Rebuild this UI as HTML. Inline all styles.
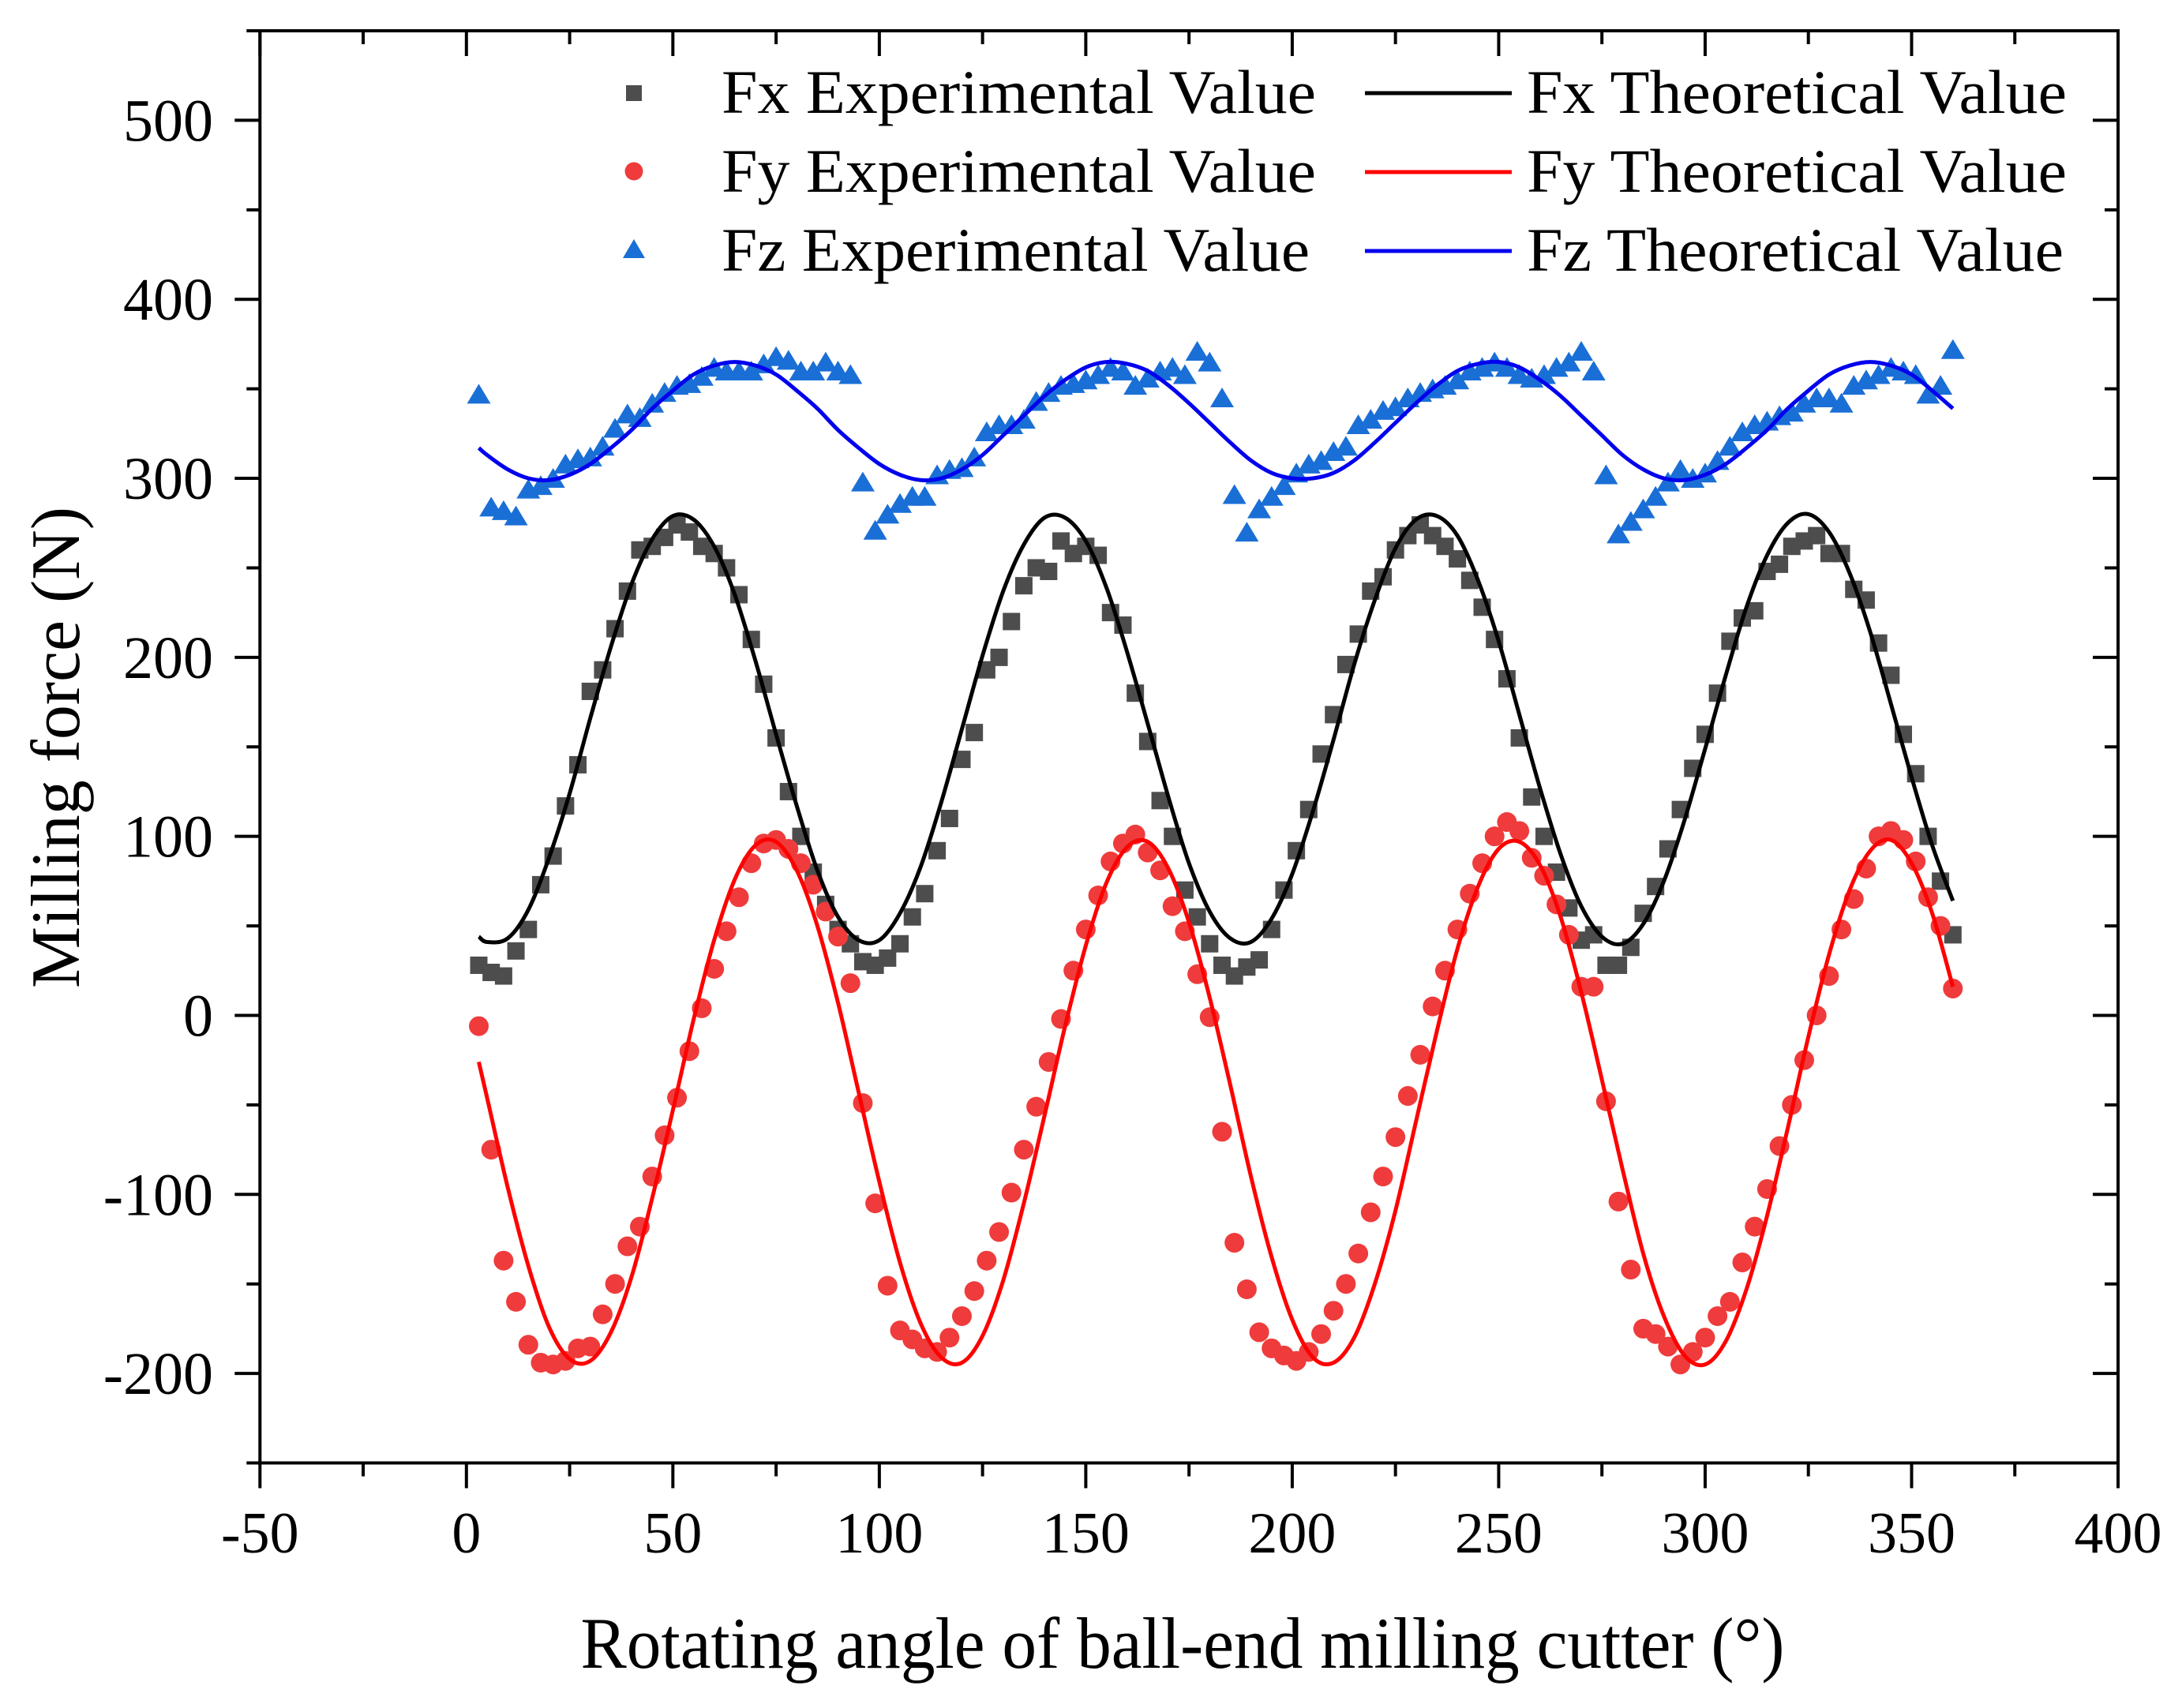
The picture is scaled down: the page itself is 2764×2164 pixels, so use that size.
<!DOCTYPE html>
<html><head><meta charset="utf-8"><style>
html,body{margin:0;padding:0;background:#fff;}
svg{display:block;}
text{font-family:"Liberation Serif",serif;fill:#000;}
</style></head><body>
<svg id="chart" xmlns="http://www.w3.org/2000/svg" width="2764" height="2164" viewBox="0 0 2764 2164">
<rect x="0" y="0" width="2764" height="2164" fill="#fff"/>
<g id="plot"></g>
<g id="axes"></g>
<text x="1498" y="2113" font-size="92" text-anchor="middle" textLength="1525" lengthAdjust="spacingAndGlyphs">Rotating angle of ball-end milling cutter (°)</text>
<text transform="translate(100,947) rotate(-90)" x="0" y="0" font-size="88" text-anchor="middle" textLength="610" lengthAdjust="spacingAndGlyphs">Milling force (N)</text>
<g>
  <rect x="793" y="108" width="20" height="20" fill="#4d4d4d"/>
  <text x="914" y="143" font-size="78" textLength="753" lengthAdjust="spacingAndGlyphs">Fx Experimental Value</text>
  <line x1="1729" y1="118" x2="1915" y2="118" stroke="#000" stroke-width="5"/>
  <text x="1934" y="143" font-size="78" textLength="684" lengthAdjust="spacingAndGlyphs">Fx Theoretical Value</text>
  <circle cx="803" cy="217" r="11.5" fill="#ef3b3b"/>
  <text x="914" y="243" font-size="78" textLength="753" lengthAdjust="spacingAndGlyphs">Fy Experimental Value</text>
  <line x1="1729" y1="218" x2="1915" y2="218" stroke="#ff0000" stroke-width="5"/>
  <text x="1934" y="243" font-size="78" textLength="684" lengthAdjust="spacingAndGlyphs">Fy Theoretical Value</text>
  <polygon points="803,303 817,327 789,327" fill="#1a6fd6"/>
  <text x="914" y="343" font-size="78" textLength="745" lengthAdjust="spacingAndGlyphs">Fz Experimental Value</text>
  <line x1="1729" y1="318" x2="1915" y2="318" stroke="#0000ee" stroke-width="5"/>
  <text x="1934" y="343" font-size="78" textLength="680" lengthAdjust="spacingAndGlyphs">Fz Theoretical Value</text>
</g>
</svg>
<script>
const xTicks = [-50, 0, 50, 100, 150, 200, 250, 300, 350, 400];
const yTicks = [-200, -100, 0, 100, 200, 300, 400, 500];
const theoAngles = [3,5,10,15,20,25,30,35,40,45,50,55,60,65,70,75,80,85,90,95,100,105,110,115,120,125,130,135,140,145,150,155,160,165,170,175,180,185,190,195,200,205,210,215,220,225,230,235,240,245,250,255,260,265,270,275,280,285,290,295,300,305,310,315,320,325,330,335,340,345,350,355,360];
const fxTheo = [44,41,43,59,88,124,166,206,241,266,279,277,262,235,198,157,117,81,55,42,42,57,83,119,160,201,237,263,278,278,265,239,203,163,122,85,58,43,41,54,79,114,154,196,232,261,277,279,268,243,209,168,127,90,61,44,40,51,75,109,149,190,228,257,275,280,270,247,214,174,133,95,64];
const fyTheo = [-26,-46,-96,-140,-174,-192,-193,-177,-146,-102,-53,-2.5,42,76,95,97,81,50,7,-43,-93,-138,-172,-191,-194,-179,-148,-105,-56,-6,39,74,94,97,82,52,10,-39,-90,-135,-170,-191,-194,-180,-150,-109,-59,-9,37,72,93,97,84,55,13,-36,-86,-133,-168,-190,-195,-182,-153,-112,-63,-12,34,70,92,98,85,57,16];
const fzTheo = [317,313,305,300,299,302,308,317,327,339,349,358,363,365,363,358,349,339,327,317,308,302,299,300,305,313,324,335,346,355,362,365,364,360,352,342,331,320,310,303,300,300,303,310,320,331,342,352,360,364,365,362,355,346,335,324,313,305,300,299,302,308,317,327,339,349,358,363,365,363,358,349,339];
const expAngles = [3,6,9,12,15,18,21,24,27,30,33,36,39,42,45,48,51,54,57,60,63,66,69,72,75,78,81,84,87,90,93,96,99,102,105,108,111,114,117,120,123,126,129,132,135,138,141,144,147,150,153,156,159,162,165,168,171,174,177,180,183,186,189,192,195,198,201,204,207,210,213,216,219,222,225,228,231,234,237,240,243,246,249,252,255,258,261,264,267,270,273,276,279,282,285,288,291,294,297,300,303,306,309,312,315,318,321,324,327,330,333,336,339,342,345,348,351,354,357,360];
const fxExp = [28,24,22,36,48,73,89,117,140,181,193,216,237,260,262,267,274,270,262,258,250,235,210,185,155,125,100,80,62,48,
40,30,28,32,40,55,68,92,110,143,158,193,200,220,240,250,248,265,258,262,257,225,218,180,153,120,100,70,55,40,
28,22,27,31,48,70,92,115,146,168,196,213,237,245,260,268,274,268,262,255,243,228,210,188,155,122,100,80,60,42,
45,28,28,38,57,72,93,115,138,157,180,209,222,226,248,252,262,265,268,258,258,238,232,208,190,157,135,100,75,45];
const fyExp = [-6,-75,-137,-160,-184,-194,-195,-193,-186,-185,-167,-150,-129,-118,-90,-67,-46,-20,4,26,47,66,85,96,98,93,85,73,58,44,
18,-49,-105,-151,-176,-181,-186,-188,-180,-168,-154,-137,-121,-99,-75,-51,-26,-2,25,48,67,86,96,101,91,81,61,47,23,-1,
-65,-127,-153,-177,-186,-190,-193,-188,-178,-165,-150,-133,-110,-90,-68,-45,-22,5,25,48,68,85,100,108,103,88,78,62,45,16,
16,-48,-104,-142,-175,-178,-185,-195,-188,-180,-168,-160,-138,-118,-97,-73,-50,-25,0,22,48,65,82,100,103,98,86,66,50,15];
const fzExp = [347,284,282,279,294,296,300,308,311,312,318,328,336,334,342,348,352,353,357,362,360,360,360,364,368,366,360,360,365,360,
358,298,271,280,286,290,290,302,305,306,312,326,330,330,333,343,348,352,353,355,358,362,360,352,356,360,362,358,371,365,
345,291,270,283,290,296,303,308,310,315,318,330,333,338,340,345,348,350,352,355,360,362,365,362,358,356,358,362,365,371,
360,302,269,276,283,290,298,305,300,303,310,318,326,330,332,335,337,342,345,345,342,352,355,358,362,360,358,347,352,372];

const NS = 'http://www.w3.org/2000/svg';
const X0 = 329.3, X1 = 2683, Y0 = 1853.5, Y1 = 39;
const xMin = -50, xMax = 400, yMin = -250, yMax = 550;
function sx(v){ return X0 + (v - xMin) / (xMax - xMin) * (X1 - X0); }
function sy(v){ return Y0 - (v - yMin) / (yMax - yMin) * (Y0 - Y1); }
function mk(tag, attrs, parent){ const e = document.createElementNS(NS, tag); for (const k in attrs) e.setAttribute(k, attrs[k]); parent.appendChild(e); return e; }
const plot = document.getElementById('plot');
const axes = document.getElementById('axes');

function smoothPath(xs, ys){
  const p = xs.map((x,i)=>[sx(x), sy(ys[i])]);
  let d = 'M' + p[0][0].toFixed(1) + ',' + p[0][1].toFixed(1);
  for (let i = 0; i < p.length - 1; i++){
    const p0 = p[Math.max(0,i-1)], p1 = p[i], p2 = p[i+1], p3 = p[Math.min(p.length-1,i+2)];
    const c1x = p1[0] + (p2[0]-p0[0])/6, c1y = p1[1] + (p2[1]-p0[1])/6;
    const c2x = p2[0] - (p3[0]-p1[0])/6, c2y = p2[1] - (p3[1]-p1[1])/6;
    d += ' C' + c1x.toFixed(1)+','+c1y.toFixed(1)+' '+c2x.toFixed(1)+','+c2y.toFixed(1)+' '+p2[0].toFixed(1)+','+p2[1].toFixed(1);
  }
  return d;
}

const gFx = mk('g', {}, plot);


expAngles.forEach((a, i) => {
  const r = mk('rect', {x: sx(a) - 11, y: sy(fxExp[i]) - 11, width: 22, height: 22, fill: '#4d4d4d'}, gFx);
  
  
});
const gFy = mk('g', {}, plot);


expAngles.forEach((a, i) => {
  const c = mk('circle', {cx: sx(a), cy: sy(fyExp[i]), r: 12.5, fill: '#ef3b3b'}, gFy);
  
  
});
const gFz = mk('g', {}, plot);


expAngles.forEach((a, i) => {
  const cx = sx(a), cy = sy(fzExp[i]);
  const t = mk('polygon', {points: cx+','+(cy-13)+' '+(cx+15)+','+(cy+12)+' '+(cx-15)+','+(cy+12), fill: '#1a6fd6'}, gFz);
  
  
});

const lx = mk('path', {d: smoothPath(theoAngles, fxTheo), fill: 'none', stroke: '#000', 'stroke-width': 5}, plot);


const ly = mk('path', {d: smoothPath(theoAngles, fyTheo), fill: 'none', stroke: '#ff0000', 'stroke-width': 5}, plot);


const lz = mk('path', {d: smoothPath(theoAngles, fzTheo), fill: 'none', stroke: '#0000ee', 'stroke-width': 5}, plot);



const frame = mk('rect', {x: X0, y: Y1, width: X1 - X0, height: Y0 - Y1, fill: 'none', stroke: '#000', 'stroke-width': 4}, axes);



for (let v = xMin; v <= xMax; v += 25){
  const major = (v % 50 === 0);
  const len = major ? 32 : 17;
  const x = sx(v);
  const t1 = mk('line', {x1: x, y1: Y0, x2: x, y2: Y0 + len, stroke: '#000', 'stroke-width': 4}, axes);
  
  
  const t2 = mk('line', {x1: x, y1: Y1, x2: x, y2: Y1 + len, stroke: '#000', 'stroke-width': 4}, axes);
  
  
}
xTicks.forEach(v => {
  const t = mk('text', {x: sx(v), y: 1967, 'font-size': 74, 'text-anchor': 'middle'}, axes);
  t.textContent = String(v);
  
  
});
for (let v = -250; v <= yMax; v += 50){
  const major = (v % 100 === 0);
  const len = major ? 32 : 17;
  const y = sy(v);
  const t1 = mk('line', {x1: X0, y1: y, x2: X0 - len, y2: y, stroke: '#000', 'stroke-width': 4}, axes);
  
  
  const t2 = mk('line', {x1: X1, y1: y, x2: X1 - len, y2: y, stroke: '#000', 'stroke-width': 4}, axes);
  
  
}
yTicks.forEach(v => {
  const t = mk('text', {x: 270, y: sy(v) + 26, 'font-size': 76, 'text-anchor': 'end'}, axes);
  t.textContent = String(v);
  
  
});
</script>
</body></html>
